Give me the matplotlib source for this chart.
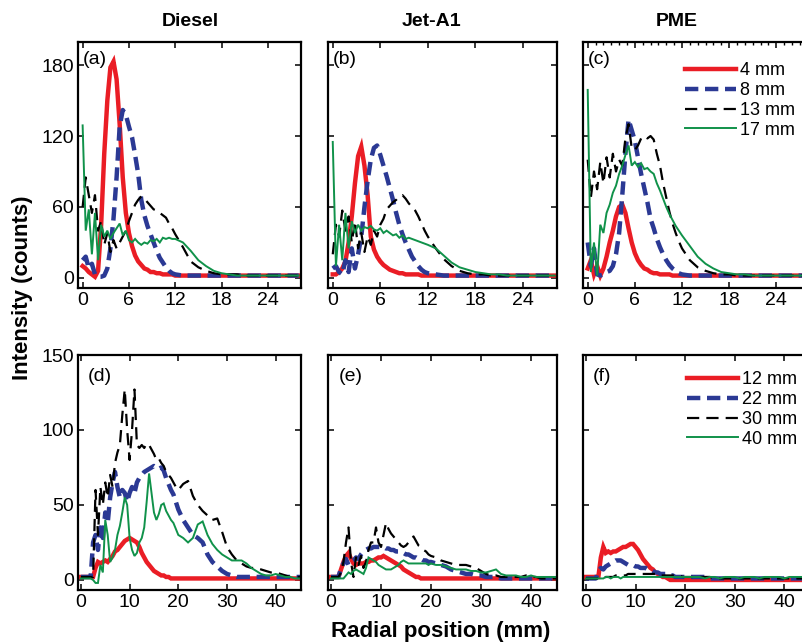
import matplotlib.pyplot as plt
import numpy as np
from matplotlib.ticker import MultipleLocator

plt.rcParams['font.family'] = ['Liberation Sans', 'DejaVu Sans']

# radial sample positions (mm)
x_top = np.r_[np.arange(0, 12.01, 0.4), np.arange(13, 29)]
x_bot = np.r_[np.arange(0, 20.01, 0.5), np.arange(21, 46)]

fuels = ['Diesel', 'Jet-A1', 'PME']
top_heights = ['4 mm', '8 mm', '13 mm', '17 mm']
bot_heights = ['12 mm', '22 mm', '30 mm', '40 mm']

# --- near-nozzle profiles (counts) ---
diesel_4 = [10, 8, 5, 3, 1, 6, 45, 105, 150, 178, 183, 168, 130, 85, 55, 38, 27, 19, 14, 11, 8, 7, 5, 5, 4, 4, 3, 3, 3, 3, 2,
            2, 2, 2, 2, 2, 2, 2, 2, 2, 2, 2, 2, 2, 2, 2, 2]
diesel_8 = [15, 18, 8, 12, 3, 1, 1, 2, 8, 25, 50, 85, 128, 142, 138, 128, 119, 104, 88, 66, 53, 44, 37, 30, 23, 17, 13, 9, 6, 4, 3,
            2, 2, 2, 2, 2, 2, 2, 2, 2, 2, 2, 2, 2, 2, 2, 2]
diesel_13 = [60, 85, 70, 55, 70, 40, 48, 28, 38, 22, 32, 25, 30, 35, 40, 48, 55, 62, 66, 69, 67, 64, 61, 58, 57, 55, 53, 51, 46, 42, 37,
             26, 14, 9, 6, 4, 3, 3, 3, 2, 2, 2, 2, 2, 2, 2, 2]
diesel_17 = [129, 40, 58, 20, 55, 15, 45, 35, 40, 33, 38, 42, 46, 36, 40, 32, 30, 33, 30, 28, 30, 29, 32, 31, 33, 30, 34, 33, 34, 33, 33,
             30, 23, 15, 10, 6, 4, 3, 2, 2, 2, 2, 2, 2, 2, 2, 2]

jet_4 = [3, 3, 5, 8, 14, 30, 52, 80, 103, 111, 95, 70, 35, 24, 18, 14, 11, 9, 7, 6, 5, 4, 4, 3, 3, 3, 3, 3, 2, 2, 2,
         2, 2, 2, 2, 2, 2, 2, 2, 2, 2, 2, 2, 2, 2, 2, 2]
jet_8 = [8, 10, 5, 3, 15, 5, 25, 8, 20, 35, 60, 82, 100, 110, 112, 104, 95, 86, 76, 66, 55, 45, 37, 30, 24, 18, 14, 10, 7, 5, 4,
         3, 2, 2, 2, 2, 2, 2, 2, 2, 2, 2, 2, 2, 2, 2, 2]
jet_13 = [20, 45, 35, 57, 40, 52, 30, 48, 25, 38, 22, 35, 28, 40, 35, 45, 50, 58, 61, 64, 66, 69, 70, 67, 63, 60, 57, 52, 46, 40, 35,
          25, 16, 10, 6, 4, 3, 3, 2, 2, 2, 2, 2, 2, 2, 2, 2]
jet_17 = [115, 10, 45, 15, 55, 25, 48, 38, 45, 40, 43, 42, 44, 41, 40, 42, 38, 40, 38, 36, 37, 34, 36, 33, 34, 33, 32, 31, 30, 29, 28,
          25, 19, 13, 9, 7, 5, 4, 3, 3, 2, 2, 2, 2, 2, 2, 2]

pme_4 = [8, 15, 3, 10, 2, 8, 18, 30, 40, 52, 60, 62, 55, 42, 30, 21, 15, 11, 8, 7, 5, 4, 4, 3, 3, 3, 3, 2, 2, 2, 2,
         2, 2, 2, 2, 2, 2, 2, 2, 2, 2, 2, 2, 2, 2, 2, 2]
pme_8 = [30, 10, 25, 3, 2, 3, 5, 6, 10, 20, 38, 70, 105, 134, 125, 116, 102, 88, 76, 64, 50, 42, 33, 26, 20, 15, 11, 8, 6, 4, 3,
         2, 2, 2, 2, 2, 2, 2, 2, 2, 2, 2, 2, 2, 2, 2, 2]
pme_13 = [100, 68, 90, 75, 98, 80, 102, 85, 105, 90, 100, 95, 118, 130, 110, 108, 112, 118, 120, 118, 120, 117, 105, 95, 80, 68, 56, 46, 38, 31, 25,
          15, 9, 6, 4, 3, 3, 2, 2, 2, 2, 2, 2, 2, 2, 2, 2]
pme_17 = [159, 5, 30, 2, 45, 38, 55, 62, 72, 78, 88, 95, 104, 112, 95, 98, 94, 97, 92, 93, 90, 88, 80, 74, 67, 60, 54, 49, 44, 40, 36,
          27, 18, 12, 8, 5, 4, 3, 3, 2, 2, 2, 2, 2, 2, 2, 2]

# --- downstream profiles (counts) ---
diesel_12 = [2, 2, 2, 2, 2, 2, 8, 12, 11, 12, 13, 12, 14, 16, 19, 20, 22, 24, 26, 27, 28, 27, 26, 25, 22, 18, 15, 12, 10, 8, 6, 5, 4, 3, 3, 2, 2, 1, 1, 1, 1,
             1, 1, 1, 1, 1, 1, 1, 1, 1, 1, 1, 1, 1, 1, 1, 1, 1, 1, 1, 1, 1, 1, 1, 1, 1]
diesel_22 = [2, 2, 2, 2, 2, 25, 30, 20, 35, 28, 45, 38, 55, 65, 72, 62, 55, 60, 58, 52, 58, 62, 58, 65, 68, 70, 72, 73, 74, 75, 76, 75, 74, 75, 73, 68, 64, 60, 57, 52, 47,
             40, 35, 30, 28, 25, 17, 12, 9, 6, 4, 3, 2, 2, 2, 2, 2, 2, 2, 2, 2, 2, 2, 2, 2, 2]
diesel_30 = [2, 2, 2, 2, 2, 2, 60, 30, 62, 50, 65, 55, 70, 62, 78, 85, 90, 110, 127, 100, 80, 100, 127, 90, 88, 90, 88, 91, 90, 87, 84, 80, 81, 78, 76, 72, 70, 68, 65, 62, 60,
             64, 66, 56, 50, 46, 43, 40, 41, 32, 22, 17, 13, 11, 9, 8, 8, 7, 6, 5, 5, 4, 3, 2, 2, 2]
diesel_40 = [1, 1, 1, 1, 1, 0, -2, -2, 10, 5, 40, 30, 12, 15, 20, 30, 36, 45, 55, 50, 28, 20, 16, 18, 25, 28, 35, 52, 71, 58, 45, 40, 44, 50, 51, 46, 43, 40, 38, 34, 30,
             28, 25, 28, 37, 39, 30, 24, 20, 17, 15, 13, 13, 13, 11, 8, 6, 4, 3, 3, 4, 3, 2, 2, 1, 1]

jet_12 = [2, 2, 2, 2, 7, 12, 16, 18, 14, 11, 10, 11, 11, 11, 12, 12, 13, 13, 14, 15, 15, 16, 15, 14, 13, 12, 11, 10, 9, 7, 6, 5, 4, 3, 2, 2, 1, 1, 1, 1, 1,
          1, 1, 1, 1, 1, 1, 1, 1, 1, 1, 1, 1, 1, 1, 1, 1, 1, 1, 1, 1, 1, 1, 1, 1, 1]
jet_22 = [2, 2, 2, 2, 8, 11, 14, 10, 12, 13, 15, 14, 17, 19, 20, 21, 21, 22, 22, 22, 22, 22, 21, 21, 20, 20, 19, 19, 18, 18, 17, 17, 16, 15, 15, 14, 14, 13, 13, 12, 12,
          11, 10, 9, 7, 6, 5, 4, 4, 3, 3, 2, 2, 2, 1, 1, 1, 1, 1, 1, 1, 1, 1, 1, 1, 1]
jet_30 = [2, 2, 2, 2, 5, 12, 25, 35, 12, 2, 15, 10, 16, 8, 12, 20, 25, 25, 35, 25, 22, 30, 38, 34, 31, 29, 27, 25, 23, 22, 23, 25, 27, 29, 26, 23, 22, 20, 19, 17, 16,
          15, 13, 12, 11, 10, 10, 10, 9, 8, 6, 4, 3, 3, 2, 2, 2, 2, 2, 3, 2, 2, 1, 1, 1, 1]
jet_40 = [1, 1, 1, 1, 1, 1, 3, 5, 4, 6, 7, 6, 5, 4, 8, 15, 14, 13, 12, 10, 9, 8, 7, 7, 7, 8, 9, 10, 12, 13, 12, 11, 11, 11, 11, 11, 11, 11, 11, 10, 11,
          10, 10, 9, 8, 7, 7, 7, 6, 6, 5, 5, 6, 7, 4, 3, 3, 3, 2, 2, 3, 2, 2, 2, 2, 2]

pme_12 = [2, 2, 2, 2, 2, 2, 15, 22, 18, 19, 18, 19, 19, 20, 21, 22, 22, 23, 24, 24, 22, 20, 17, 14, 12, 10, 8, 7, 5, 4, 3, 2, 2, 1, 0, 0, 0, 0, 0, 0, 0,
          0, 0, 0, 0, 0, 0, 0, 0, 0, 0, 0, 0, 0, 0, 0, 0, 0, 0, 0, 0, 0, 0, 0, 0, 0]
pme_22 = [1, 1, 1, 1, 1, 6, 8, 7, 9, 10, 11, 12, 13, 13, 13, 12, 11, 10, 10, 10, 9, 9, 8, 8, 8, 7, 7, 6, 5, 5, 4, 4, 4, 3, 3, 3, 2, 2, 2, 2, 2,
          2, 2, 2, 2, 1, 1, 1, 1, 1, 1, 1, 1, 1, 1, 1, 1, 1, 1, 1, 1, 1, 1, 1, 1, 1]
pme_30 = [1, 1, 1, 1, 1, 1, 1, 1, 2, 2, 2, 2, 3, 3, 3, 3, 3, 4, 4, 4, 4, 4, 4, 4, 4, 4, 4, 4, 4, 4, 3, 3, 3, 3, 3, 3, 3, 3, 3, 2, 2,
          2, 2, 2, 2, 2, 1, 1, 1, 1, 1, 1, 1, 1, 1, 1, 1, 1, 1, 1, 1, 1, 1, 1, 1, 1]
pme_40 = [1, 1, 1, 1, 1, 1, 1, 1, 2, 2, 1, 2, 2, 2, 1, 2, 2, 2, 2, 2, 2, 2, 2, 2, 2, 2, 2, 2, 2, 2, 2, 2, 2, 2, 2, 2, 2, 2, 2, 2, 2,
          2, 2, 2, 1, 2, 2, 1, 2, 2, 2, 1, 2, 2, 2, 1, 2, 2, 2, 2, 1, 2, 2, 2, 2, 2]

top_rows = [[diesel_4, diesel_8, diesel_13, diesel_17],
            [jet_4, jet_8, jet_13, jet_17],
            [pme_4, pme_8, pme_13, pme_17]]
bot_rows = [[diesel_12, diesel_22, diesel_30, diesel_40],
            [jet_12, jet_22, jet_30, jet_40],
            [pme_12, pme_22, pme_30, pme_40]]

# color, linewidth, dash pattern (None = solid)
styles = [('#ea1d25', 3.2, None),
          ('#2b3994', 3.2, (3, 1.5)),
          ('#000000', 1.6, (5.5, 3.2)),
          ('#10924a', 1.4, None)]

W, H = 802, 643
fig = plt.figure(figsize=(W / 100, H / 100), dpi=100)


def add_ax(left, top, w, h):
    return fig.add_axes([left / W, 1 - (top + h) / H, w / W, h / H])


cols = [(78, 223), (328, 229), (583, 227)]
title_x = [190, 431, 677]
legend_kw = dict(loc='upper left', frameon=False, fontsize=13, handlelength=2.85,
                 handletextpad=0.2, labelspacing=0.15, borderpad=0, borderaxespad=0)


def draw(ax, x, series, labels):
    for y, lab, (c, lw, dash) in zip(series, labels, styles):
        line, = ax.plot(x, y, color=c, lw=lw, label=lab, solid_joinstyle='miter')
        if dash:
            line.set_dashes(dash)
    for s in ax.spines.values():
        s.set_linewidth(1.6)
    ax.tick_params(direction='in', top=True, right=True, length=4, width=1.1,
                   labelsize=14, pad=3)


for i, (left, w) in enumerate(cols):
    ax = add_ax(left, 42, w, 246)
    draw(ax, x_top, top_rows[i], top_heights)
    ax.set_xlim(-0.6, 28.3)
    ax.set_ylim(-8.5, 199.5)
    ax.set_xticks([0, 6, 12, 18, 24])
    ax.set_yticks([0, 60, 120, 180])
    fig.text(title_x[i] / W, 1 - 22 / H, fuels[i], ha='center', va='center',
             fontsize=14, fontweight='bold')
    ax.text(0.022, 0.927, '(%s)' % 'abc'[i], transform=ax.transAxes,
            fontsize=14, va='center')
    if i > 0:
        ax.tick_params(labelleft=False)
    if i == 2:
        ax.xaxis.set_minor_locator(MultipleLocator(1))
        ax.tick_params(which='minor', direction='in', bottom=False, top=True,
                       left=False, right=False, length=2.5, width=1)
        ax.legend(bbox_to_anchor=(0.449, 0.917), **legend_kw)

    ax = add_ax(left, 355, w, 235)
    draw(ax, x_bot, bot_rows[i], bot_heights)
    ax.set_xlim(-0.6, 45.2)
    ax.set_ylim(-6.7, 150)
    ax.set_xticks([0, 10, 20, 30, 40])
    ax.set_yticks([0, 50, 100, 150])
    ax.text(0.045, 0.908, '(%s)' % 'def'[i], transform=ax.transAxes,
            fontsize=14, va='center')
    if i > 0:
        ax.tick_params(labelleft=False)
    if i == 2:
        ax.legend(bbox_to_anchor=(0.458, 0.93), **legend_kw)

fig.text(23 / W, 1 - 288 / H, 'Intensity (counts)', rotation=90, ha='center',
         va='center', fontsize=16, fontweight='bold')
fig.text(441 / W, 1 - 632 / H, 'Radial position (mm)', ha='center',
         va='center', fontsize=16, fontweight='bold')

fig.savefig('out.png', dpi=100)
